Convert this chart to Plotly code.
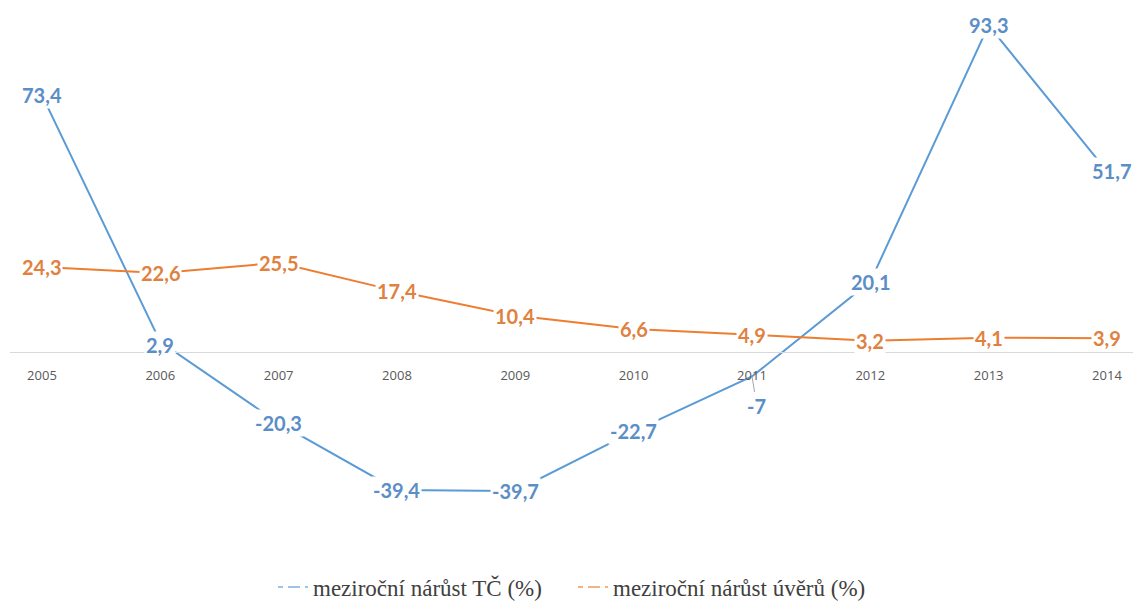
import plotly.graph_objects as go

years = ["2005", "2006", "2007", "2008", "2009", "2010", "2011", "2012", "2013", "2014"]
tc_growth = [73.4, 2.9, -20.3, -39.4, -39.7, -22.7, -7.0, 20.1, 93.3, 51.7]
loan_growth = [24.3, 22.6, 25.5, 17.4, 10.4, 6.6, 4.9, 3.2, 4.1, 3.9]
name_tc = "meziroční nárůst TČ (%)"
name_loan = "meziroční nárůst úvěrů (%)"

BLUE = "#5B9BD5"
BLUE_TXT = "#5B8EC6"
ORANGE = "#ED7D31"
ORANGE_TXT = "#E0813F"

xi = list(range(len(years)))

fig = go.Figure()
fig.add_trace(go.Scatter(x=xi, y=tc_growth, mode="lines", line=dict(color=BLUE, width=2), showlegend=False))
fig.add_trace(go.Scatter(x=xi, y=loan_growth, mode="lines", line=dict(color=ORANGE, width=2), showlegend=False))
fig.add_trace(go.Scatter(x=[None], y=[None], mode="lines", name=name_tc,
                         line=dict(color="#9DC3E6", width=2, dash="5px,5px,12px")))
fig.add_trace(go.Scatter(x=[None], y=[None], mode="lines", name=name_loan,
                         line=dict(color="#F4B183", width=2, dash="5px,5px,12px")))


def fmt(v):
    s = ("%.1f" % v).replace(".", ",")
    if s.endswith(",0"):
        s = s[:-2]
    return s


ann = []
lab_font = dict(family="Lato", size=20)
for i, v in zip(xi, tc_growth):
    if years[i] == "2011":
        ann.append(dict(x=i, y=v, xref="x", yref="y", text="<b>" + fmt(v) + "</b>", showarrow=True,
                        ax=5, ay=29, arrowhead=0, arrowcolor="#A6A6A6", arrowwidth=1, standoff=0,
                        font=dict(lab_font, color=BLUE_TXT), bgcolor="white", borderpad=1))
    else:
        ann.append(dict(x=i, y=v, xref="x", yref="y", text="<b>" + fmt(v) + "</b>", showarrow=False,
                        yshift=-3 if 0 < v < 5 else 0, xshift=5 if i == len(xi) - 1 else 0,
                        font=dict(lab_font, color=BLUE_TXT), bgcolor="white", borderpad=1))
for i, v in zip(xi, loan_growth):
    ann.append(dict(x=i, y=v, xref="x", yref="y", text="<b>" + fmt(v) + "</b>", showarrow=False,
                    font=dict(lab_font, color=ORANGE_TXT), bgcolor="white", borderpad=1))

s = 3.50
top, bottom, zero_px = 5, 520, 352
ymax = (zero_px - top) / s
ymin = -(bottom - zero_px) / s
ph = bottom - top
pw = 1133 - 10

fig.update_layout(
    width=1133, height=606,
    margin=dict(l=10, r=0, t=top, b=606 - bottom),
    paper_bgcolor="white", plot_bgcolor="white",
    annotations=ann,
    xaxis=dict(range=[-0.27, 9.22], tickmode="array", tickvals=xi, ticktext=years,
               showgrid=False, zeroline=False,
               showline=True, linecolor="#D9D9D9", linewidth=1, ticks="",
               anchor="free", position=(bottom - zero_px) / ph,
               tickfont=dict(family="Open Sans", size=13, color="#595959"),
               ticklabelstandoff=11),
    yaxis=dict(range=[ymin, ymax], visible=False, showgrid=False, zeroline=False),
    legend=dict(orientation="h", x=(273 - 10) / pw, xanchor="left",
                yref="container", y=1 - 587 / 606, yanchor="middle",
                font=dict(family="Liberation Serif", size=23, color="#404040"),
                itemwidth=30, entrywidth=255, entrywidthmode="pixels"),
)

fig.write_html("out.html")
